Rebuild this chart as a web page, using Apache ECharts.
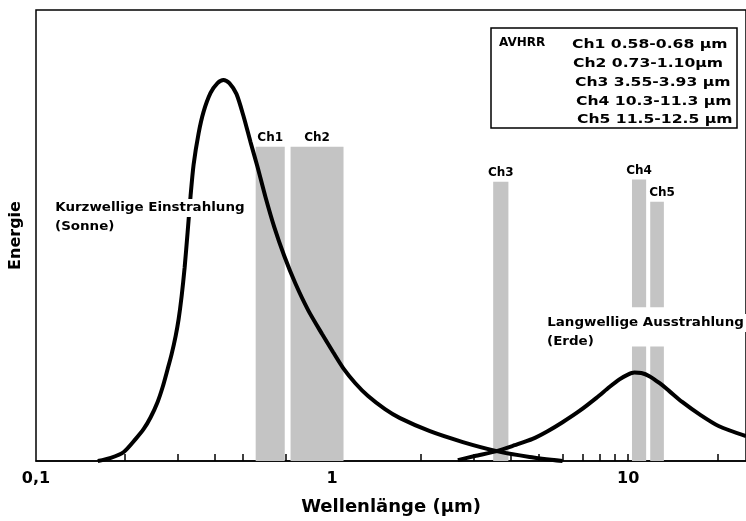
<!DOCTYPE html>
<html>
<head>
<meta charset="utf-8">
<script src="https://cdn.jsdelivr.net/npm/echarts@6/dist/echarts.min.js"></script>
<style>html,body{margin:0;padding:0;background:#fff}#c{width:746px;height:521px}</style>
</head>
<body>
<div id="c"></div>
<script>
// Solar (short-wave) curve: [wavelength µm, relative energy]
const solarCurve = [
  [0.1617, 0], [0.1789, 0.7], [0.1979, 2.0], [0.2172, 4.9], [0.2311, 7.1], [0.2439, 9.7],
  [0.2575, 13.1], [0.2678, 16.4], [0.2784, 20.4], [0.2871, 23.7], [0.2962, 27.7], [0.3031, 31.4],
  [0.3103, 36.5], [0.3177, 42.9], [0.3251, 50.7], [0.3327, 58.8], [0.3406, 65.7], [0.3540, 72.6],
  [0.3680, 77.4], [0.3886, 81.6], [0.4102, 83.8], [0.4297, 84.5], [0.4499, 83.8], [0.4753, 81.4],
  [0.5020, 76.5], [0.5299, 70.8], [0.5595, 65.3], [0.5953, 58.6], [0.6383, 51.8], [0.6900, 45.4],
  [0.7512, 39.4], [0.8308, 33.4], [0.9262, 28.1], [1.0085, 24.1], [1.090, 20.6], [1.196, 17.3],
  [1.323, 14.4], [1.509, 11.5], [1.696, 9.5], [2.140, 6.6], [2.764, 4.2], [3.598, 2.2],
  [4.647, 0.9], [6.003, 0]
];
// Earth (long-wave) curve
const earthCurve = [
  [2.659, 0.2], [3.034, 1.1], [3.598, 2.2], [4.137, 3.5], [4.756, 4.9], [5.344, 6.6],
  [6.003, 8.6], [6.847, 11.1], [7.814, 14.0], [8.643, 16.4], [9.342, 18.1], [9.938, 19.1],
  [10.49, 19.6], [11.08, 19.5], [11.79, 18.8], [12.74, 17.3], [13.77, 15.5], [15.22, 13.1],
  [17.37, 10.4], [20.28, 7.7], [25, 5.5]
];
// AVHRR channel bands: [start µm, end µm, top, bottom, label]
const bandSegments = [
  [0.552, 0.692, 69.7, 0, 'Ch1'],
  [0.724, 1.093, 69.7, 0, 'Ch2'],
  [3.50, 3.94, 61.9, 0, 'Ch3'],
  [10.3, 11.5, 62.4, 34.1, 'Ch4'],
  [10.3, 11.5, 25.4, 0, ''],
  [11.87, 13.2, 57.5, 34.1, 'Ch5'],
  [11.87, 13.2, 25.4, 0, '']
];
const tickValues = [0.2, 0.3, 0.4, 0.5, 0.6, 0.7, 0.8, 0.9, 1, 2, 3, 4, 5, 6, 7, 8, 9, 10, 20];
const labelValues = [0.1, 1, 10];
const legendTitle = 'AVHRR';
const legendLines = ['Ch1 0.58-0.68 µm', 'Ch2 0.73-1.10µm', 'Ch3 3.55-3.93 µm', 'Ch4 10.3-11.3 µm', 'Ch5 11.5-12.5 µm'];

const FONT = '"DejaVu Sans", sans-serif';
const chart = echarts.init(document.getElementById('c'));
const legendX = [572, 573, 575, 576, 577];
const legendY = [45, 64, 83, 102, 120];
const graphics = [
  { type: 'rect', x: 491, y: 28, shape: { x: 0, y: 0, width: 246, height: 100 }, style: { fill: '#fff', stroke: '#000', lineWidth: 1.5 }, z: 10 },
  { type: 'text', x: 499, y: 43, style: { text: legendTitle, font: 'bold 12px ' + FONT, fill: '#000', verticalAlign: 'middle' }, z: 11 },
  { type: 'text', x: 53, y: 208, scaleX: 1.12, style: { text: 'Kurzwellige Einstrahlung', font: 'bold 12px ' + FONT, fill: '#000', verticalAlign: 'middle', backgroundColor: '#fff', padding: [3, 2] }, z: 20 },
  { type: 'text', x: 55, y: 227, scaleX: 1.12, style: { text: '(Sonne)', font: 'bold 12px ' + FONT, fill: '#000', verticalAlign: 'middle' }, z: 20 },
  { type: 'text', x: 545, y: 323, scaleX: 1.12, style: { text: 'Langwellige Ausstrahlung', font: 'bold 12px ' + FONT, fill: '#000', verticalAlign: 'middle', backgroundColor: '#fff', padding: [3, 2] }, z: 20 },
  { type: 'text', x: 547, y: 342, scaleX: 1.12, style: { text: '(Erde)', font: 'bold 12px ' + FONT, fill: '#000', verticalAlign: 'middle' }, z: 20 }
];
legendLines.forEach((t, i) => {
  graphics.push({ type: 'text', x: legendX[i], y: legendY[i], scaleX: 1.3, style: { text: t, font: 'bold 12px ' + FONT, fill: '#000', verticalAlign: 'middle' }, z: 11 });
});

chart.setOption({
  animation: false,
  backgroundColor: '#fff',
  grid: { left: 35, right: -1, top: 10, bottom: 59, show: true, borderColor: '#000', borderWidth: 1.5 },
  xAxis: {
    type: 'log', logBase: 10, min: 0.1, max: 25,
    name: 'Wellenlänge (µm)', nameLocation: 'middle', nameGap: 37,
    nameTextStyle: { fontFamily: FONT, fontWeight: 'bold', fontSize: 18, color: '#000' },
    axisLine: { show: true, lineStyle: { color: '#000', width: 1.5 } },
    axisTick: { show: true, inside: true, length: 7, lineStyle: { color: '#000', width: 1.5 }, customValues: tickValues },
    minorTick: { show: false },
    splitLine: { show: false },
    axisLabel: {
      customValues: labelValues, margin: 10, fontFamily: FONT, fontWeight: 'bold', fontSize: 16, color: '#000',
      formatter: v => (Math.abs(v - 0.1) < 1e-9 ? '0,1' : String(Math.round(v)))
    }
  },
  yAxis: {
    type: 'value', min: 0, max: 100,
    name: 'Energie', nameLocation: 'middle', nameGap: 12, nameRotate: 90,
    nameTextStyle: { fontFamily: FONT, fontWeight: 'bold', fontSize: 16, color: '#000' },
    axisLine: { show: false }, axisTick: { show: false }, axisLabel: { show: false }, splitLine: { show: false }
  },
  series: [
    {
      type: 'custom', z: 1,
      data: bandSegments,
      renderItem: (params, api) => {
        const p1 = api.coord([api.value(0), api.value(3)]);
        const p2 = api.coord([api.value(1), api.value(2)]);
        const name = bandSegments[params.dataIndex][4];
        const children = [{
          type: 'rect',
          shape: { x: p1[0], y: p2[1], width: p2[0] - p1[0], height: p1[1] - p2[1] },
          style: { fill: '#c4c4c4' }
        }];
        if (name) {
          children.push({
            type: 'text',
            style: {
              text: name, x: (p1[0] + p2[0]) / 2 + (name === 'Ch5' ? 5 : 0), y: p2[1] - 3,
              align: 'center', verticalAlign: 'bottom', font: 'bold 12px ' + FONT, fill: '#000'
            }
          });
        }
        return { type: 'group', children };
      }
    },
    {
      type: 'line', data: solarCurve, smooth: 0.25, showSymbol: false, z: 5,
      lineStyle: { color: '#000', width: 4 }
    },
    {
      type: 'line', data: earthCurve, smooth: 0.25, showSymbol: false, z: 5,
      lineStyle: { color: '#000', width: 4 }
    }
  ],
  graphic: graphics
});
</script>
</body>
</html>
